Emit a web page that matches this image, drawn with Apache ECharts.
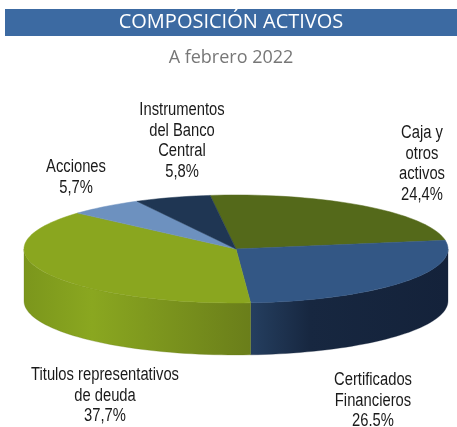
<!DOCTYPE html>
<html>
<head>
<meta charset="utf-8">
<script src="https://cdn.jsdelivr.net/npm/echarts@6/dist/echarts.min.js"></script>
<style>
  html, body { margin: 0; padding: 0; background: #fff; }
  #chart { width: 457px; height: 427px; }
</style>
</head>
<body>
<div id="chart"></div>
<script>
// datos
const categories = ['Caja y\notros\nactivos', 'Certificados\nFinancieros', 'Titulos representativos\nde deuda', 'Acciones', 'Instrumentos\ndel Banco\nCentral'];
const values = [24.4, 26.5, 37.7, 5.7, 5.8];
const valueLabels = ['24,4%', '26.5%', '37,7%', '5,7%', '5,8%'];

// estilo / layout
const topColors = ['#54691a', '#335785', '#8aa61f', '#6d91bf', '#1f3653'];
const sideColors = [
  ['#4a5d15', '#4a5d15', '#3d4d12'],
  ['#253f60', '#172740', '#14223a'],
  ['#7b961c', '#8aa720', '#6a7e1a'],
  ['#5f80aa', '#5f80aa', '#4d6a8f'],
  ['#1c304a', '#1c304a', '#14243a']
];
const labelPos = [[422, 123], [373, 370], [105, 365], [76, 157], [182, 100]];
const pie = { cx: 236, cy: 249, rx: 212, ry: 54, depth: 52, start: -97 };

const total = values.reduce((a, b) => a + b, 0);
const angles = [];
let acc = pie.start;
values.forEach(v => {
  const a0 = acc;
  acc += v / total * 360;
  angles.push([a0, acc]);
});

const rad = d => d * Math.PI / 180;
const pt = (t, dy) => [pie.cx + pie.rx * Math.cos(rad(t)), pie.cy + (dy || 0) + pie.ry * Math.sin(rad(t))];

function arcPoints(a0, a1, dy) {
  const pts = [];
  const n = Math.max(2, Math.ceil(Math.abs(a1 - a0) / 2));
  for (let i = 0; i <= n; i++) pts.push(pt(a0 + (a1 - a0) * i / n, dy));
  return pts;
}

function renderItem(params, api) {
  const i = params.dataIndex;
  const [a0, a1] = angles[i];
  const children = [];
  // cara superior
  children.push({
    type: 'polygon',
    z2: 10,
    shape: { points: [[pie.cx, pie.cy]].concat(arcPoints(a0, a1, 0)) },
    style: { fill: topColors[i], stroke: topColors[i], lineWidth: 0.5 }
  });
  // costado visible (frente, 0..180)
  [[-360, -180], [0, 180], [360, 540]].forEach(([f0, f1]) => {
    const s = Math.max(a0, f0), e = Math.min(a1, f1);
    if (e > s) {
      const pts = arcPoints(s, e, 0).concat(arcPoints(e, s, pie.depth));
      children.push({
        type: 'polygon',
        z2: 5,
        shape: { points: pts },
        style: {
          fill: new echarts.graphic.LinearGradient(0, 0, 1, 0, [
            { offset: 0, color: sideColors[i][0] },
            { offset: 0.3, color: sideColors[i][1] },
            { offset: 1, color: sideColors[i][2] }
          ]),
          stroke: sideColors[i][2], lineWidth: 0.3
        }
      });
    }
  });
  // etiqueta
  children.push({
    type: 'text',
    z2: 20,
    x: labelPos[i][0],
    y: labelPos[i][1],
    scaleX: 0.82,
    style: {
      text: categories[i] + '\n' + valueLabels[i],
      align: 'center',
      verticalAlign: 'top',
      fill: '#1a1a1a',
      font: '18px "Liberation Sans", Arial, sans-serif',
      lineHeight: 20.5
    }
  });
  return { type: 'group', children: children };
}

const chart = echarts.init(document.getElementById('chart'));
chart.setOption({
  animation: false,
  graphic: [
    { type: 'rect', left: 5, top: 9, shape: { width: 452, height: 27 }, style: { fill: '#3c6aa2' } },
    {
      type: 'text', x: 231, y: 22.5,
      style: { text: 'COMPOSICIÓN ACTIVOS', align: 'center', verticalAlign: 'middle', fill: '#fff', font: '20px "Open Sans", sans-serif' }
    },
    {
      type: 'text', x: 231, y: 58,
      style: { text: 'A febrero 2022', align: 'center', verticalAlign: 'middle', fill: '#777', font: '18px "Open Sans", sans-serif' }
    }
  ],
  series: [{
    type: 'custom',
    coordinateSystem: 'none',
    renderItem: renderItem,
    data: values
  }]
});
</script>
</body>
</html>
